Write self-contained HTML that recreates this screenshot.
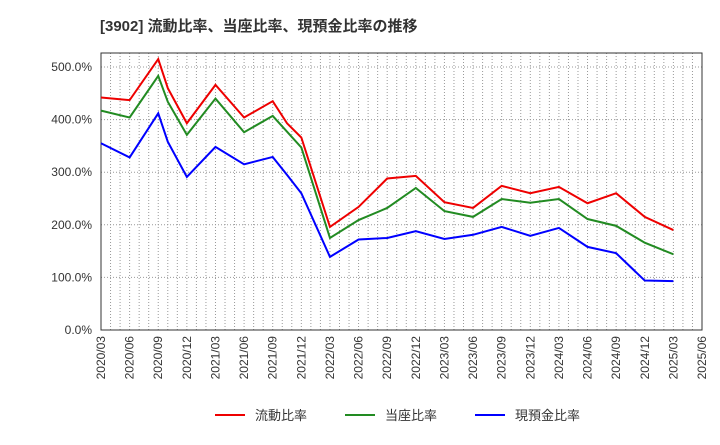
<!DOCTYPE html>
<html><head><meta charset="utf-8"><style>
body{margin:0;background:#fff;font-family:"Liberation Sans","Noto Sans CJK JP",sans-serif;}
</style></head><body>
<svg width="720" height="440" xmlns="http://www.w3.org/2000/svg" font-family="Liberation Sans, Noto Sans CJK JP, sans-serif">
<text x="100" y="31" font-size="15" font-weight="bold" fill="#333">[3902]  流動比率、当座比率、現預金比率の推移</text>
<g id="grid"></g><g id="axes"></g><g id="series"></g>
<g>
<line x1="215" y1="415" x2="245" y2="415" stroke="#e00" stroke-width="2"/>
<text x="255" y="420" font-size="13" fill="#333">流動比率</text>
<line x1="345" y1="415" x2="375" y2="415" stroke="#228B22" stroke-width="2"/>
<text x="385" y="420" font-size="13" fill="#333">当座比率</text>
<line x1="475" y1="415" x2="505" y2="415" stroke="#00f" stroke-width="2"/>
<text x="515" y="420" font-size="13" fill="#333">現預金比率</text>
</g>
</svg>
<script>
const months=[0,3,6,7,9,12,15,18,19.5,21,24,27,30,33,36,39,42,45,48,51,54,57,60];
const currentRatio=[442,437,515,460,393,466,404,435,393,366,196,234,288,293,243,232,274,260,272,241,260,215,190];
const quickRatio=[417,404,483,434,371,440,376,407,377,347,175,209,232,270,226,215,249,242,249,211,198,166,144];
const cashRatio=[355,328,412,358,291,348,315,329,295,260,139,172,175,188,173,181,196,179,194,158,146,94,93];
const yTicks=[0,100,200,300,400,500];
const xTickLabels=["2020/03","2020/06","2020/09","2020/12","2021/03","2021/06","2021/09","2021/12","2022/03","2022/06","2022/09","2022/12","2023/03","2023/06","2023/09","2023/12","2024/03","2024/06","2024/09","2024/12","2025/03","2025/06"];
const L=101,R=702,T=53,B=330;
const monthW=(R-L)/63;
const xs=m=>L+m*monthW;
const ys=v=>B-v*(B-67)/500;
const ns="http://www.w3.org/2000/svg";
function mk(tag,attrs,parent){const e=document.createElementNS(ns,tag);for(const k in attrs)e.setAttribute(k,attrs[k]);parent.appendChild(e);return e;}
const grid=document.getElementById('grid'),axes=document.getElementById('axes'),series=document.getElementById('series');
for(let m=1;m<63;m++){
 const l=mk('line',{x1:xs(m),x2:xs(m),y1:T,y2:B,stroke:'#999','stroke-width':1,'stroke-dasharray':'1,2'},grid);
 
 
}
yTicks.forEach(v=>{
 if(v>0){const l=mk('line',{x1:L,x2:R,y1:ys(v),y2:ys(v),stroke:'#999','stroke-width':1,'stroke-dasharray':'1,2'},grid);
 
 }
 const t=mk('text',{x:92,y:ys(v)+4,'font-size':12,fill:'#333','text-anchor':'end'},axes);
 t.textContent=v.toFixed(1)+'%';
 
 
});
const frame=mk('rect',{x:L,y:T,width:R-L,height:B-T,fill:'none',stroke:'#333','stroke-width':1},axes);


xTickLabels.forEach((s,i)=>{
 const x=xs(i*3);
 const t=mk('text',{x:0,y:0,'font-size':12,fill:'#333','text-anchor':'end',transform:`translate(${x+4},336) rotate(-90)`},axes);
 t.textContent=s;
 
 
});
[[currentRatio,'#e00','current-ratio-line'],[quickRatio,'#228B22','quick-ratio-line'],[cashRatio,'#00f','cash-ratio-line']].forEach(([d,c,n])=>{
 const p=mk('polyline',{points:d.map((v,i)=>xs(months[i])+','+ys(v)).join(' '),fill:'none',stroke:c,'stroke-width':2},series);
 
 
});
</script>
</body></html>
